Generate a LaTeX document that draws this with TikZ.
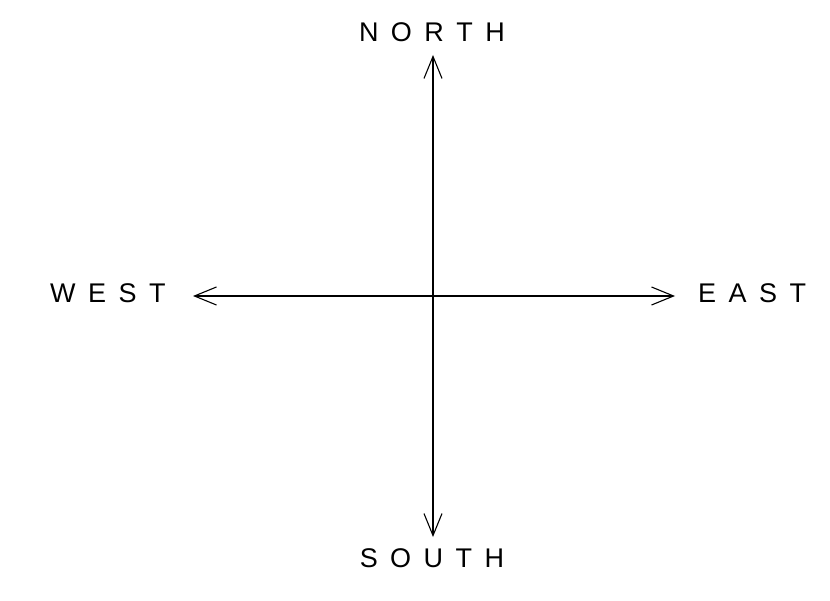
\documentclass[tikz,border=0pt]{standalone}
\usepackage{fontspec}
\setmainfont{Liberation Sans}
\usetikzlibrary{arrows.meta}
\newcommand{\spc}{\kern 12.5pt}
\tikzset{
  lbl/.style={font=\fontsize{27}{30}\selectfont, inner sep=0pt, anchor=base},
  axis/.style={line width=1.1pt, -{Straight Barb[length=22pt,width=18pt,line width=1.1pt]}}
}
\begin{document}
\begin{tikzpicture}[x=1pt,y=-1pt]
\useasboundingbox (0,0) rectangle (830,601);
\coordinate (c) at (433,296);
\coordinate (n) at (433,55);
\coordinate (s) at (433,537);
\coordinate (w) at (193,296);
\coordinate (e) at (675,296);
\draw[axis] (c) -- (n);
\draw[axis] (c) -- (s);
\draw[axis] (c) -- (w);
\draw[axis] (c) -- (e);
\node[lbl] (north) at (432,42) {N\spc O\spc R\spc T\spc H};
\node[lbl] (south) at (432,567) {S\spc O\spc U\spc T\spc H};
\node[lbl, anchor=base west] (west) at (50,303) {W\spc E\spc S\spc T};
\node[lbl, anchor=base west] (east) at (698,303) {E\spc A\spc S\spc T};
\end{tikzpicture}
\end{document}
